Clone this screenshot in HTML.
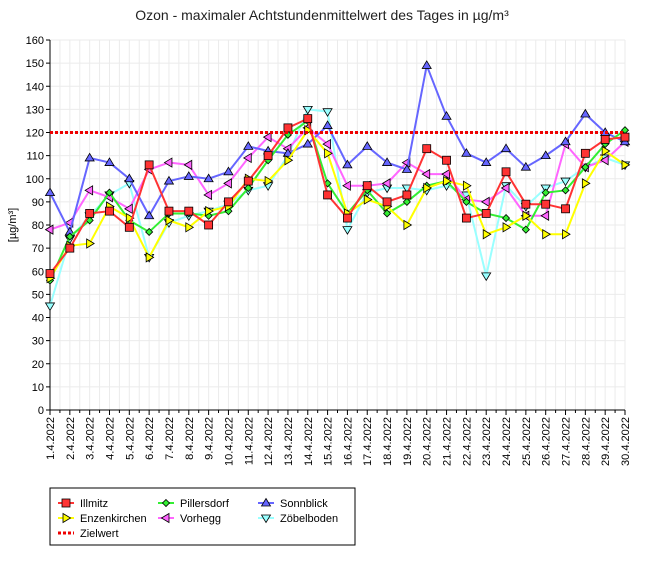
<!DOCTYPE html>
<html><head><meta charset="utf-8"><style>
body{margin:0;background:#fff;font-family:"Liberation Sans",sans-serif}
</style></head><body>
<svg id="s" width="645" height="576" xmlns="http://www.w3.org/2000/svg" font-family="Liberation Sans, sans-serif"></svg>
<script>
const s=document.getElementById('s');
let h='';
const X0=50,X1=625,Y0=410,Y1=40;
const xs=i=>X0+i*(X1-X0)/29, ys=v=>Y0-v*(Y0-Y1)/160;
h+='<text x="322" y="20" font-size="14" text-anchor="middle" fill="#222">Ozon -  maximaler Achtstundenmittelwert des Tages in µg/m³</text>';
for(let v=0;v<=160;v+=10){let y=ys(v);h+=`<line x1="${X0}" x2="${X1}" y1="${y}" y2="${y}" stroke="#ebebeb"/>`;
h+=`<line x1="${X0-4}" x2="${X0}" y1="${y}" y2="${y}" stroke="#000"/>`;
h+=`<text x="${X0-6}" y="${y+4}" font-size="11" text-anchor="end" fill="#000">${v}</text>`;}
for(let i=0;i<=58;i++){let x=X0+i*(X1-X0)/58;h+=`<line x1="${x}" x2="${x}" y1="${Y1}" y2="${Y0}" stroke="#ebebeb"/>`;
h+=`<line x1="${x}" x2="${x}" y1="${Y0}" y2="${Y0+(i%2?3:5)}" stroke="#000"/>`;}
for(let i=0;i<30;i++){let x=xs(i)+4;h+=`<text transform="translate(${x},${Y0+7}) rotate(-90)" font-size="11" text-anchor="end" fill="#000">${i+1}.4.2022</text>`;}
h+=`<line x1="${X0}" x2="${X0}" y1="${Y1}" y2="${Y0}" stroke="#000"/><line x1="${X0}" x2="${X1}" y1="${Y0}" y2="${Y0}" stroke="#000"/>`;
h+=`<text transform="translate(16,225) rotate(-90)" font-size="11" text-anchor="middle">[µg/m³]</text>`;
const D={
Zob:[45,74,84,93,98,66,81,84,86,89,95,97,110,130,129,78,94,96,96,95,97,93,58,97,88,96,99,105,109,106],
Vor:[78,81,95,92,87,104,107,106,93,98,109,118,113,122,115,97,97,98,107,102,102,91,90,96,84,84,115,105,108,116],
Son:[94,77,109,107,100,84,99,101,100,103,114,112,111,115,123,106,114,107,104,149,127,111,107,113,105,110,116,128,120,116],
Pil:[56,75,82,94,82,77,85,85,84,86,96,108,119,125,98,85,95,85,90,97,99,90,85,83,78,94,95,105,115,121],
Enz:[57,71,72,88,83,66,82,79,86,88,100,99,108,121,111,85,91,88,80,96,99,97,76,79,84,76,76,98,112,106],
Ill:[59,70,85,86,79,106,86,86,80,90,99,110,122,126,93,83,97,90,93,113,108,83,85,103,89,89,87,111,117,118]};
const C={Zob:'#99ffff',Vor:'#ff66ff',Son:'#6666ff',Pil:'#33ee33',Enz:'#ffff00',Ill:'#ff3333'};
function mk(k,x,y){const c=C[k];const a=`fill="${c}" stroke="#000" stroke-width="0.8"`;
switch(k){case 'Ill':return `<rect x="${x-4}" y="${y-4}" width="8" height="8" ${a}/>`;
case 'Pil':return `<polygon points="${x},${y-3.5} ${x+3.5},${y} ${x},${y+3.5} ${x-3.5},${y}" ${a}/>`;
case 'Son':return `<polygon points="${x},${y-4.5} ${x+4.5},${y+3} ${x-4.5},${y+3}" ${a}/>`;
case 'Enz':return `<polygon points="${x+4.5},${y} ${x-3},${y-4.5} ${x-3},${y+4.5}" ${a}/>`;
case 'Vor':return `<polygon points="${x-4.5},${y} ${x+3},${y-4.5} ${x+3},${y+4.5}" ${a}/>`;
case 'Zob':return `<polygon points="${x},${y+4.5} ${x+4.5},${y-3} ${x-4.5},${y-3}" ${a}/>`;}}
for(const k in D){h+=`<polyline fill="none" stroke="${C[k]}" stroke-width="2" points="${D[k].map((v,i)=>xs(i)+','+ys(v)).join(' ')}"/>`;
D[k].forEach((v,i)=>h+=mk(k,xs(i),ys(v)));}
h+=`<line x1="${X0}" x2="${X1}" y1="${ys(120)}" y2="${ys(120)}" stroke="#e00" stroke-width="3" stroke-dasharray="3,2"/>`;
h+=`<rect x="50" y="488" width="305" height="57" fill="#fff" stroke="#000"/>`;
const L=[['Ill','Illmitz',58,503],['Pil','Pillersdorf',158,503],['Son','Sonnblick',258,503],['Enz','Enzenkirchen',58,518],['Vor','Vorhegg',158,518],['Zob','Zöbelboden',258,518]];
for(const [k,t,x,y] of L){h+=`<line x1="${x}" x2="${x+16}" y1="${y}" y2="${y}" stroke="${C[k]}" stroke-width="2"/>`+mk(k,x+8,y)+`<text x="${x+22}" y="${y+4}" font-size="11">${t}</text>`;}
h+=`<line x1="58" x2="74" y1="533" y2="533" stroke="#e00" stroke-width="3" stroke-dasharray="3,2"/><text x="80" y="537" font-size="11">Zielwert</text>`;
s.innerHTML=h;
</script>
</body></html>
